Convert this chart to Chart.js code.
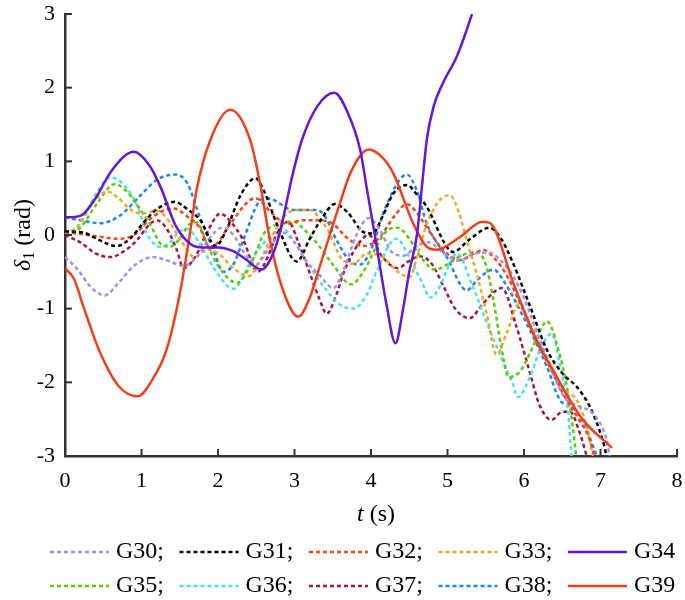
<!DOCTYPE html>
<html>
<head>
<meta charset="utf-8">
<script src="https://cdn.jsdelivr.net/npm/chart.js@4.4.1/dist/chart.umd.min.js"></script>
<style>
  body { margin: 0; background: #fff; }
  canvas { display: block; }
</style>
</head>
<body>
<canvas id="deltaChart" width="685" height="600"></canvas>
<script>
// Rotor angle curves, [t (s), delta (rad)]
const g30 = [[0,-0.3],[0.15,-0.45],[0.35,-0.72],[0.52,-0.82],[0.7,-0.65],[0.9,-0.42],[1.15,-0.3],[1.35,-0.35],[1.55,-0.42],[1.72,-0.3],[1.9,-0.03],[2.05,0.1],[2.2,0.0],[2.35,-0.25],[2.5,-0.4],[2.65,-0.2],[2.85,0.03],[3.0,-0.1],[3.15,-0.35],[3.33,-0.55],[3.51,-0.72],[3.65,-0.45],[3.81,0.0],[3.97,0.23],[4.1,0.1],[4.29,-0.25],[4.42,-0.28],[4.6,-0.15],[4.75,-0.1],[4.95,-0.25],[5.16,-0.35],[5.35,-0.25],[5.55,-0.24],[5.7,-0.35],[5.86,-0.56],[5.99,-0.83],[6.21,-1.43],[6.38,-1.88],[6.52,-2.19],[6.73,-2.33],[6.9,-2.42],[7.08,-2.78],[7.12,-3.0]];
const g31 = [[0,0.05],[0.25,0.03],[0.45,-0.07],[0.67,-0.15],[0.85,-0.05],[1.02,0.16],[1.2,0.35],[1.43,0.45],[1.6,0.35],[1.77,0.2],[1.97,-0.15],[2.1,0.05],[2.3,0.55],[2.49,0.77],[2.6,0.6],[2.77,0.15],[3.03,-0.36],[3.2,-0.05],[3.33,0.18],[3.53,0.42],[3.7,0.3],[3.9,0.04],[4.02,0.02],[4.15,0.25],[4.29,0.56],[4.47,0.68],[4.6,0.55],[4.73,0.38],[4.99,-0.16],[5.07,-0.23],[5.3,-0.05],[5.55,0.1],[5.7,-0.05],[5.86,-0.39],[6.08,-0.97],[6.3,-1.56],[6.52,-1.9],[6.69,-2.06],[6.86,-2.33],[7.03,-2.79],[7.08,-3.0]];
const g32 = [[0,0.04],[0.3,0.0],[0.72,-0.05],[0.9,0.0],[1.15,0.25],[1.42,0.36],[1.6,0.25],[1.76,0.1],[1.9,-0.18],[2.0,-0.1],[2.16,0.15],[2.49,0.5],[2.7,0.3],[2.9,0.15],[3.1,0.2],[3.3,0.2],[3.49,0.16],[3.7,-0.05],[3.9,-0.15],[4.1,-0.05],[4.3,0.25],[4.47,0.42],[4.6,0.3],[4.73,0.1],[4.95,-0.21],[5.16,-0.34],[5.35,-0.25],[5.47,-0.2],[5.6,-0.3],[5.77,-0.54],[5.99,-1.02],[6.16,-1.43],[6.38,-1.88],[6.51,-2.15],[6.69,-2.46],[6.86,-2.78],[6.92,-3.0]];
const g33 = [[0,0.0],[0.15,0.1],[0.35,0.42],[0.55,0.59],[0.7,0.5],[0.85,0.35],[1.0,0.29],[1.2,0.33],[1.35,0.2],[1.5,-0.05],[1.7,-0.3],[1.85,-0.2],[2.0,-0.25],[2.2,-0.45],[2.4,-0.56],[2.55,-0.35],[2.68,-0.07],[2.9,0.29],[3.07,0.34],[3.2,0.34],[3.35,0.2],[3.46,0.02],[3.6,-0.3],[3.77,-0.39],[3.95,-0.25],[4.15,-0.3],[4.35,-0.5],[4.51,-0.57],[4.6,-0.3],[4.73,0.15],[4.88,0.45],[5.03,0.54],[5.15,0.3],[5.25,-0.07],[5.38,-0.52],[5.51,-1.06],[5.64,-1.62],[5.77,-1.34],[5.94,-0.93],[6.08,-1.2],[6.3,-1.66],[6.52,-2.1],[6.69,-2.24],[6.82,-2.6],[6.9,-3.0]];
const g34 = [[0,0.24],[0.2,0.26],[0.4,0.5],[0.6,0.86],[0.9,1.13],[1.1,0.95],[1.25,0.65],[1.45,0.12],[1.65,-0.13],[1.8,-0.17],[2.0,-0.17],[2.2,-0.22],[2.35,-0.32],[2.57,-0.47],[2.7,-0.3],[2.8,0.0],[2.98,0.84],[3.1,1.3],[3.3,1.75],[3.52,1.93],[3.7,1.65],[3.86,1.15],[3.95,0.6],[4.05,0.0],[4.2,-0.93],[4.32,-1.47],[4.42,-1.0],[4.5,-0.5],[4.6,0.0],[4.67,0.7],[4.73,1.3],[4.82,1.75],[4.94,2.06],[5.12,2.42],[5.25,2.78],[5.32,3.0]];
const g35 = [[0,0.0],[0.2,0.1],[0.4,0.4],[0.65,0.69],[0.8,0.6],[0.94,0.41],[1.11,0.15],[1.25,-0.12],[1.37,-0.16],[1.5,-0.05],[1.63,0.15],[1.72,0.17],[1.85,-0.1],[1.99,-0.4],[2.25,-0.65],[2.45,-0.35],[2.6,0.02],[2.8,0.15],[2.99,0.18],[3.15,0.05],[3.33,-0.16],[3.5,-0.4],[3.74,-0.67],[3.9,-0.5],[4.07,-0.16],[4.2,0.05],[4.35,0.1],[4.5,-0.05],[4.65,-0.3],[4.84,-0.47],[5.0,-0.4],[5.16,-0.29],[5.38,-0.23],[5.5,-0.4],[5.6,-0.88],[5.7,-1.5],[5.8,-1.93],[5.95,-1.85],[6.08,-1.6],[6.21,-1.3],[6.3,-1.17],[6.45,-1.56],[6.56,-2.06],[6.64,-2.62],[6.68,-3.0]];
const g36 = [[0,0.02],[0.2,0.15],[0.4,0.55],[0.6,0.78],[0.75,0.7],[0.94,0.41],[1.07,0.02],[1.24,-0.16],[1.35,-0.12],[1.5,0.05],[1.6,0.08],[1.75,-0.1],[1.99,-0.52],[2.2,-0.73],[2.46,-0.3],[2.68,-0.02],[2.85,0.08],[3.0,-0.1],[3.2,-0.43],[3.42,-0.75],[3.6,-0.95],[3.77,-1.0],[3.95,-0.8],[4.07,-0.5],[4.33,-0.05],[4.5,-0.3],[4.65,-0.61],[4.78,-0.85],[4.9,-0.7],[5.03,-0.39],[5.12,-0.25],[5.33,-0.7],[5.5,-1.15],[5.68,-1.61],[5.85,-2.01],[5.92,-2.2],[6.08,-1.92],[6.21,-1.56],[6.36,-1.34],[6.49,-1.88],[6.57,-2.33],[6.62,-3.0]];
const g37 = [[0,0.0],[0.2,-0.1],[0.4,-0.25],[0.59,-0.3],[0.8,-0.2],[0.94,-0.07],[1.11,0.15],[1.2,0.2],[1.35,0.05],[1.46,-0.2],[1.55,-0.45],[1.7,-0.3],[1.85,0.02],[2.03,0.29],[2.15,0.2],[2.33,-0.07],[2.52,-0.5],[2.65,-0.3],[2.77,0.02],[2.92,0.18],[3.05,-0.1],[3.2,-0.52],[3.33,-0.88],[3.42,-1.07],[3.55,-0.8],[3.64,-0.52],[3.81,-0.16],[3.97,0.0],[4.15,-0.3],[4.35,-0.45],[4.5,-0.35],[4.64,-0.29],[4.8,-0.4],[4.95,-0.7],[5.1,-1.0],[5.29,-1.13],[5.45,-0.95],[5.6,-0.78],[5.71,-0.72],[5.9,-1.24],[6.08,-1.88],[6.2,-2.3],[6.36,-2.51],[6.5,-2.4],[6.6,-2.4],[6.73,-2.69],[6.82,-3.0]];
const g38 = [[0,0.24],[0.2,0.2],[0.45,0.16],[0.7,0.25],[1.0,0.55],[1.2,0.75],[1.44,0.82],[1.6,0.7],[1.76,0.25],[1.94,-0.2],[2.07,-0.5],[2.2,-0.4],[2.33,-0.07],[2.55,0.47],[2.64,0.5],[2.99,0.34],[3.29,0.34],[3.4,0.25],[3.55,-0.07],[3.77,-0.39],[3.86,-0.4],[4.0,-0.2],[4.2,0.4],[4.47,0.82],[4.6,0.6],[4.73,0.15],[4.99,-0.3],[5.25,-0.75],[5.4,-0.6],[5.6,-0.47],[5.75,-0.65],[5.99,-1.11],[6.3,-1.79],[6.47,-2.24],[6.65,-2.35],[6.8,-2.6],[6.95,-3.0]];
const g39 = [[0,-0.45],[0.12,-0.6],[0.24,-0.97],[0.46,-1.6],[0.7,-2.05],[0.95,-2.19],[1.15,-1.95],[1.33,-1.55],[1.5,-0.8],[1.63,0.0],[1.72,0.61],[1.9,1.29],[2.16,1.7],[2.42,1.29],[2.55,0.7],[2.68,-0.07],[2.85,-0.75],[3.05,-1.11],[3.2,-0.85],[3.33,-0.43],[3.46,0.0],[3.6,0.45],[3.73,0.84],[3.97,1.16],[4.15,1.05],[4.29,0.84],[4.55,0.16],[4.73,-0.16],[4.86,-0.2],[5.16,-0.03],[5.46,0.18],[5.56,0.16],[5.86,-0.65],[6.12,-1.33],[6.43,-1.93],[6.6,-2.24],[6.77,-2.51],[7.15,-2.89]];

const seriesNames = ['G30', 'G31', 'G32', 'G33', 'G34', 'G35', 'G36', 'G37', 'G38', 'G39'];
const seriesData = [g30, g31, g32, g33, g34, g35, g36, g37, g38, g39];
const seriesColors = ['#a48ef2', '#000000', '#f2461c', '#f5a623', '#6318d6', '#5ccb0e', '#4fe0f0', '#a3154a', '#1f86ee', '#f0401a'];
const seriesSolid = [false, false, false, false, true, false, false, false, false, true];

const xTicks = [0, 1, 2, 3, 4, 5, 6, 7, 8];
const yTicks = [-3, -2, -1, 0, 1, 2, 3];

const serif = '"Liberation Serif", "Times New Roman", serif';

const datasets = seriesNames.map((name, i) => ({
    label: name,
    data: seriesData[i].map(p => ({ x: p[0], y: p[1] })),
    borderColor: seriesColors[i],
    backgroundColor: seriesColors[i],
    borderWidth: 2.5,
    borderDash: seriesSolid[i] ? [] : [4, 3],
    pointRadius: 0,
    fill: false,
    cubicInterpolationMode: 'monotone',
    order: seriesSolid[i] ? 0 : 1
}));

// ticks pointing inward, axis titles with italic symbols, two-row legend
const decorPlugin = {
    id: 'decor',
    afterDraw(chart) {
        const { ctx, chartArea, scales } = chart;
        ctx.save();
        ctx.strokeStyle = '#333';
        ctx.lineWidth = 2;
        xTicks.forEach(v => {
            const px = scales.x.getPixelForValue(v);
            ctx.beginPath();
            ctx.moveTo(px, chartArea.bottom);
            ctx.lineTo(px, chartArea.bottom - 7);
            ctx.stroke();
        });
        yTicks.forEach(v => {
            const py = scales.y.getPixelForValue(v);
            ctx.beginPath();
            ctx.moveTo(chartArea.left, py);
            ctx.lineTo(chartArea.left + 7, py);
            ctx.stroke();
        });

        ctx.fillStyle = '#000';
        ctx.textBaseline = 'middle';

        // x title: t (s)
        ctx.font = 'italic 24px ' + serif;
        const tW = ctx.measureText('t').width;
        ctx.font = '24px ' + serif;
        const restW = ctx.measureText(' (s)').width;
        let x0 = 376 - (tW + restW) / 2;
        ctx.font = 'italic 24px ' + serif;
        ctx.textAlign = 'left';
        ctx.fillText('t', x0, 515);
        ctx.font = '24px ' + serif;
        ctx.fillText(' (s)', x0 + tW, 515);

        // y title: delta_1 (rad)
        ctx.save();
        ctx.translate(24, 235);
        ctx.rotate(-Math.PI / 2);
        ctx.font = 'italic 24px ' + serif;
        const dW = ctx.measureText('δ').width;
        ctx.font = '16px ' + serif;
        const sW = ctx.measureText('1').width;
        ctx.font = '24px ' + serif;
        const rW = ctx.measureText(' (rad)').width;
        let y0 = -(dW + sW + rW) / 2;
        ctx.font = 'italic 24px ' + serif;
        ctx.fillText('δ', y0, 0);
        ctx.font = '16px ' + serif;
        ctx.fillText('1', y0 + dW, 6);
        ctx.font = '24px ' + serif;
        ctx.fillText(' (rad)', y0 + dW + sW, 0);
        ctx.restore();

        // legend
        const rowY = [552, 586];
        ctx.font = '24px ' + serif;
        seriesNames.forEach((name, i) => {
            const row = Math.floor(i / 5);
            const col = i % 5;
            const lx = 50 + col * 129.5;
            const ly = rowY[row];
            ctx.strokeStyle = seriesColors[i];
            ctx.lineWidth = 2.5;
            ctx.setLineDash(seriesSolid[i] ? [] : [4, 3]);
            ctx.beginPath();
            ctx.moveTo(lx, ly);
            ctx.lineTo(lx + 59, ly);
            ctx.stroke();
            ctx.setLineDash([]);
            ctx.fillStyle = '#000';
            ctx.fillText(col === 4 ? name : name + ';', lx + 66, ly);
        });
        ctx.restore();
    }
};

const ctx = document.getElementById('deltaChart').getContext('2d');
const deltaChart = new Chart(ctx, {
    type: 'line',
    data: { datasets: datasets },
    options: {
        responsive: false,
        animation: false,
        layout: { padding: { top: 14, right: 8, left: 0, bottom: 0 } },
        scales: {
            x: {
                type: 'linear',
                min: 0,
                max: 8,
                afterFit: scale => {
                    scale.height = 144;
                    scale.paddingLeft = 0;
                    scale.paddingRight = 0;
                },
                grid: { drawOnChartArea: false, drawTicks: false },
                border: { display: true, color: '#333', width: 2.5 },
                ticks: {
                    stepSize: 1,
                    padding: 12,
                    color: '#000',
                    font: { family: serif, size: 22 }
                }
            },
            y: {
                type: 'linear',
                min: -3,
                max: 3,
                afterFit: scale => {
                    scale.width = 65;
                    scale.paddingTop = 0;
                    scale.paddingBottom = 0;
                },
                grid: { drawOnChartArea: false, drawTicks: false },
                border: { display: true, color: '#333', width: 2.5 },
                ticks: {
                    stepSize: 1,
                    padding: 10,
                    color: '#000',
                    font: { family: serif, size: 22 }
                }
            }
        },
        plugins: {
            legend: { display: false },
            tooltip: { enabled: false }
        }
    },
    plugins: [decorPlugin]
});
</script>
</body>
</html>
